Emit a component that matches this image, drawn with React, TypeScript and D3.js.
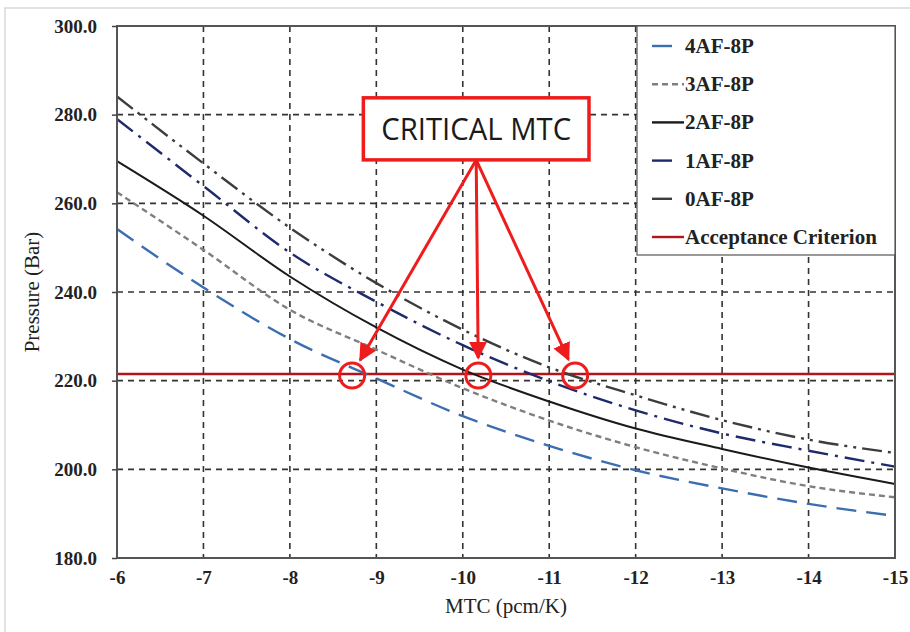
import { useEffect, useRef } from 'react'
import * as d3 from 'd3'

// MTC values (pcm/K) at which the curves were read
const mtc = [-6, -7, -8, -9, -10, -11, -12, -13, -14, -15]

// Peak pressure (Bar) for each case
const af4 = [254.2, 241.0, 229.4, 220.5, 212.0, 205.3, 199.8, 195.7, 192.2, 189.5]
const af3 = [262.5, 249.5, 236.0, 227.0, 218.3, 211.0, 205.0, 200.2, 196.2, 193.7]
const af2 = [269.5, 257.2, 243.5, 232.0, 222.5, 215.3, 209.2, 204.6, 200.4, 196.7]
const af1 = [279.0, 263.9, 248.9, 237.8, 228.0, 219.9, 213.3, 208.1, 204.2, 200.6]
const af0 = [284.1, 269.0, 254.5, 242.0, 231.5, 223.0, 216.7, 211.1, 206.7, 203.7]

const seriesNames = ['4AF-8P', '3AF-8P', '2AF-8P', '1AF-8P', '0AF-8P']
const seriesValues = [af4, af3, af2, af1, af0]
const seriesColors = ['#3b6eaf', '#7f7f7f', '#1a1a1a', '#1f2a6b', '#3d3d3d']
const seriesDashes = ['20,10', '6,4', null, '20,7,3,7', '20,6,3,6,3,6']

const acceptance = 221.5
const xTicks = [-6, -7, -8, -9, -10, -11, -12, -13, -14, -15]
const yTicks = [180, 200, 220, 240, 260, 280, 300]

// annotation: critical MTC crossings and callout box (data units)
const criticalMtc = [-8.72, -10.18, -11.3]
const calloutBox = { x0: -8.85, x1: -11.46, y0: 283.8, y1: 269.8 }

export default function App() {
  const svgRef = useRef(null)

  useEffect(() => {
    const svg = d3.select(svgRef.current)
    svg.selectAll('*').remove()

    const x = d3.scaleLinear().domain([-6, -15]).range([117, 895])
    const y = d3.scaleLinear().domain([180, 300]).range([558, 26])
    const serif = "'Liberation Serif', 'Times New Roman', serif"

    // outer frame
    svg.append('rect')
      .attr('x', 5).attr('y', 8).attr('width', 940).attr('height', 660)
      .attr('fill', 'white').attr('stroke', '#d9d9d9').attr('stroke-width', 1.5)

    // grid
    const grid = svg.append('g')
    grid.selectAll('.gx').data(xTicks.slice(1, -1)).enter().append('line')
      .attr('x1', d => x(d)).attr('x2', d => x(d))
      .attr('y1', y(300)).attr('y2', y(180))
      .attr('stroke', '#333').attr('stroke-width', 1.6).attr('stroke-dasharray', '6,5')
    grid.selectAll('.gy').data(yTicks.slice(1, -1)).enter().append('line')
      .attr('x1', x(-6)).attr('x2', x(-15))
      .attr('y1', d => y(d)).attr('y2', d => y(d))
      .attr('stroke', '#333').attr('stroke-width', 1.6).attr('stroke-dasharray', '6,5')

    // acceptance criterion
    svg.append('line')
      .attr('x1', x(-6)).attr('x2', x(-15))
      .attr('y1', y(acceptance)).attr('y2', y(acceptance))
      .attr('stroke', '#b3141b').attr('stroke-width', 2.4)

    // curves
    const line = d3.line<number>()
      .x((_, i) => x(mtc[i]))
      .y(d => y(d))
      .curve(d3.curveMonotoneX)

    seriesValues.forEach((vals, i) => {
      svg.append('path')
        .attr('d', line(vals))
        .attr('fill', 'none')
        .attr('stroke', seriesColors[i])
        .attr('stroke-width', i === 2 ? 2 : 2.4)
        .attr('stroke-dasharray', seriesDashes[i])
    })

    // plot frame
    svg.append('rect')
      .attr('x', x(-6)).attr('y', y(300))
      .attr('width', x(-15) - x(-6)).attr('height', y(180) - y(300))
      .attr('fill', 'none').attr('stroke', '#555').attr('stroke-width', 2)

    // y axis
    const yAxis = svg.append('g')
      .attr('transform', `translate(${x(-6)},0)`)
      .call(d3.axisLeft(y).tickValues(yTicks).tickFormat(d => d3.format('.1f')(d)).tickSize(5).tickPadding(15))
    yAxis.select('.domain').remove()
    yAxis.selectAll('line').attr('stroke', '#444').attr('stroke-width', 1.5)
    yAxis.selectAll('text')
      .attr('font-family', serif).attr('font-weight', 'bold')
      .attr('font-size', 19).attr('fill', '#222')

    // x axis
    const xAxis = svg.append('g')
      .attr('transform', `translate(0,${y(180)})`)
      .call(d3.axisBottom(x).tickValues(xTicks).tickFormat(d => String(d)).tickSize(0).tickPadding(13))
    xAxis.select('.domain').remove()
    xAxis.selectAll('text')
      .attr('font-family', serif).attr('font-weight', 'bold')
      .attr('font-size', 19).attr('fill', '#222')

    // axis titles
    svg.append('text')
      .attr('x', 506).attr('y', 613)
      .attr('text-anchor', 'middle')
      .attr('font-family', serif).attr('font-size', 21).attr('fill', '#222')
      .text('MTC (pcm/K)')
    svg.append('text')
      .attr('transform', 'translate(39,292) rotate(-90)')
      .attr('text-anchor', 'middle')
      .attr('font-family', serif).attr('font-size', 21).attr('fill', '#222')
      .text('Pressure (Bar)')

    // legend
    const lg = svg.append('g')
    lg.append('rect')
      .attr('x', 637).attr('y', 26).attr('width', 258).attr('height', 229)
      .attr('fill', 'white').attr('stroke', '#555').attr('stroke-width', 1.2)
    const legendNames = [...seriesNames, 'Acceptance Criterion']
    const legendColors = [...seriesColors, '#b3141b']
    const legendDashes = ['20,20', '6,4', null, '20,20', '20,20', null]
    legendNames.forEach((name, i) => {
      const ly = 46 + i * 38.2
      lg.append('line')
        .attr('x1', 652).attr('x2', 684).attr('y1', ly).attr('y2', ly)
        .attr('stroke', legendColors[i]).attr('stroke-width', 2.4)
        .attr('stroke-dasharray', legendDashes[i])
      lg.append('text')
        .attr('x', 685).attr('y', ly + 7)
        .attr('font-family', serif).attr('font-weight', 'bold')
        .attr('font-size', 21).attr('fill', '#222')
        .text(name)
    })

    // callout
    const red = '#ee1c1c'
    const defs = svg.append('defs')
    defs.append('marker')
      .attr('id', 'arrow').attr('viewBox', '0 0 10 10')
      .attr('refX', 9).attr('refY', 5)
      .attr('markerWidth', 6).attr('markerHeight', 6)
      .attr('orient', 'auto')
      .append('path').attr('d', 'M0,0 L10,5 L0,10 z').attr('fill', red)

    const bx0 = x(calloutBox.x0), bx1 = x(calloutBox.x1)
    const by0 = y(calloutBox.y0), by1 = y(calloutBox.y1)
    const ox = (bx0 + bx1) / 2

    criticalMtc.forEach(m => {
      const cx = x(m), cy = y(acceptance)
      const ang = Math.atan2(cy - by1, cx - ox)
      const r = 16
      svg.append('line')
        .attr('x1', ox).attr('y1', by1)
        .attr('x2', cx - Math.cos(ang) * r).attr('y2', cy - Math.sin(ang) * r)
        .attr('stroke', red).attr('stroke-width', 3)
        .attr('marker-end', 'url(#arrow)')
      svg.append('circle')
        .attr('cx', cx).attr('cy', cy + 1.5).attr('r', 12.5)
        .attr('fill', 'none').attr('stroke', red).attr('stroke-width', 3)
    })

    svg.append('rect')
      .attr('x', bx0).attr('y', by0)
      .attr('width', bx1 - bx0).attr('height', by1 - by0)
      .attr('fill', 'white').attr('stroke', red).attr('stroke-width', 3.5)
    svg.append('text')
      .attr('x', ox).attr('y', (by0 + by1) / 2 + 11)
      .attr('text-anchor', 'middle')
      .attr('font-family', "'Open Sans', 'Liberation Sans', sans-serif")
      .attr('font-size', 31).attr('fill', '#1a1a1a')
      .attr('textLength', 190).attr('lengthAdjust', 'spacingAndGlyphs')
      .text('CRITICAL MTC')
  }, [])

  return (
    <svg
      ref={svgRef}
      width={910}
      height={632}
      style={{ position: 'absolute', left: 0, top: 0, background: 'white' }}
    />
  )
}
